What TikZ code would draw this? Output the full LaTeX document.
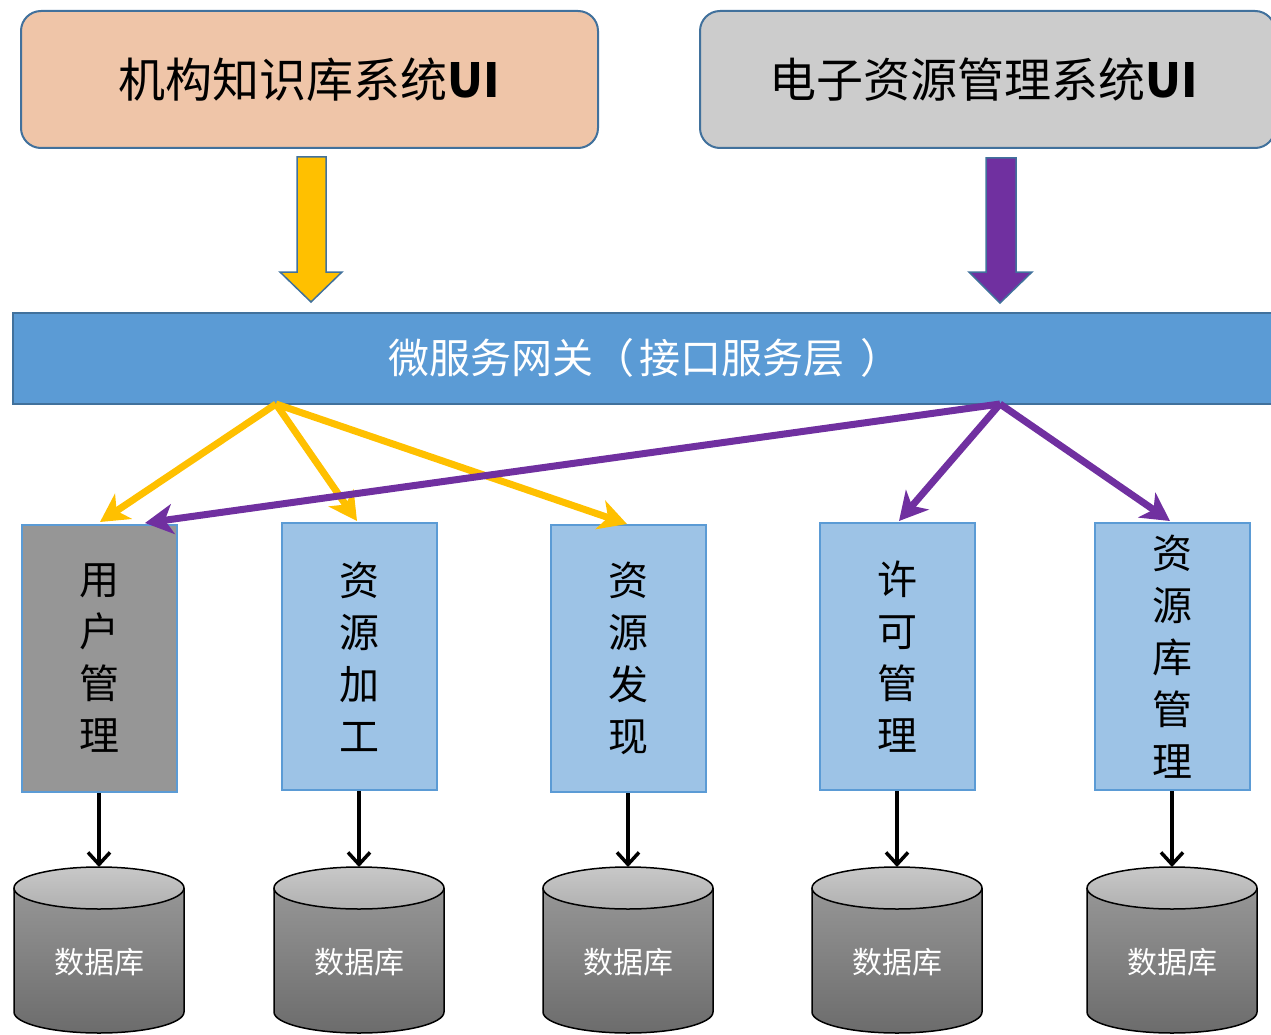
\documentclass[tikz,border=0pt]{standalone}
\usepackage{fontspec}
\newfontfamily\cjk{Noto Sans CJK SC}
\usetikzlibrary{arrows.meta,calc}
\definecolor{peach}{RGB}{239,197,168}
\definecolor{lgray}{RGB}{204,204,204}
\definecolor{edgeblue}{RGB}{65,113,156}
\definecolor{barblue}{RGB}{91,155,213}
\definecolor{svcblue}{RGB}{157,195,230}
\definecolor{svcgray}{RGB}{150,150,150}
\definecolor{ayellow}{RGB}{255,192,0}
\definecolor{apurple}{RGB}{112,48,160}
\tikzset{
  uibox/.style={draw=edgeblue, line width=2pt, rounded corners=20pt, minimum width=577pt, minimum height=137pt, inner sep=0pt, font=\cjk\fontsize{47}{50}\selectfont},
  svcbox/.style={draw=barblue, line width=2pt, fill=svcblue, minimum width=155pt, minimum height=267pt, inner sep=0pt, align=center, font=\cjk\fontsize{40}{52}\selectfont},
  blockarrow/.style={draw=edgeblue, line width=1.5pt},
  flowY/.style={draw=ayellow, line width=7pt, -{Stealth[length=28pt,width=30pt,inset=8pt]}},
  flowP/.style={draw=apurple, line width=7pt, -{Stealth[length=28pt,width=30pt,inset=8pt]}},
  dbarrow/.style={draw=black, line width=3.5pt, -{Straight Barb[length=12pt,width=22pt,line width=3.5pt]}},
  dblabel/.style={text=white, font=\cjk\fontsize{30}{34}\selectfont}
}
\begin{document}
\begin{tikzpicture}[x=1pt,y=-1pt]
\useasboundingbox (0,0) rectangle (1271,1035);
% top UI boxes
\node[uibox, fill=peach] (ui1) at (309.5,79.5) {机构知识库系统{\bfseries UI}};
\node[uibox, fill=lgray, minimum width=575pt] (ui2) at (987.5,79.5) {\hspace*{-8pt}电子资源管理系统{\bfseries UI}};
% gateway bar
\node[draw=edgeblue, line width=2pt, fill=barblue, minimum width=1267pt, minimum height=91pt, inner sep=0pt] (gw) at (646.5,358.5) {};
\node[text=white, font=\cjk\fontsize{41}{44}\selectfont] (gwt) at (645,358) {微服务网关（\hspace{6pt}接口服务层\hspace{16pt}）};
% block arrows
\path[blockarrow, fill=ayellow] (297,157) -- (326,157) -- (326,272) -- (342,272) -- (311,302) -- (280,272) -- (297,272) -- cycle;
\path[blockarrow, fill=apurple] (986,158) -- (1016,158) -- (1016,272) -- (1032,272) -- (1000,303) -- (969,272) -- (986,272) -- cycle;
% service boxes
\node[svcbox, fill=svcgray] (s1) at (99,658.5) {用\\户\\管\\理};
\node[svcbox] (s2) at (359,656.5) {资\\源\\加\\工};
\node[svcbox] (s3) at (628,658.5) {资\\源\\发\\现};
\node[svcbox] (s4) at (897,656.5) {许\\可\\管\\理};
\node[svcbox] (s5) at (1172,656.5) {资\\源\\库\\管\\理};
% fan-out points
\coordinate (gy) at (276,404);
\coordinate (gp) at (1000,404);
\coordinate (ty1) at (100,522);
\coordinate (ty2) at (357,521);
\coordinate (ty3) at (627,524);
\coordinate (tp1) at (145,523);
\coordinate (tp4) at (899,521);
\coordinate (tp5) at (1170,521);
\draw[flowY] (gy) -- (ty1);
\draw[flowY] (gy) -- (ty2);
\draw[flowY] (gy) -- (ty3);
\draw[flowP] (gp) -- (tp1);
\draw[flowP] (gp) -- (tp4);
\draw[flowP] (gp) -- (tp5);
% databases
\foreach \i/\cx in {1/99,2/359,3/628,4/897,5/1172}{
  \shade[top color={rgb,255:red,150;green,150;blue,150}, bottom color={rgb,255:red,108;green,108;blue,108}]
    (\cx-85,888) -- (\cx-85,1012) arc[start angle=180,end angle=360,x radius=85,y radius=-21] -- (\cx+85,888) -- cycle;
  \draw[line width=1.5pt] (\cx-85,888) -- (\cx-85,1012) arc[start angle=180,end angle=360,x radius=85,y radius=-21] -- (\cx+85,888);
  \shade[draw=black, line width=1.5pt, top color={rgb,255:red,200;green,200;blue,200}, bottom color={rgb,255:red,176;green,176;blue,176}] (\cx,888) ellipse[x radius=85, y radius=21];
  \coordinate (t\i) at (\cx,867);
  \node[dblabel] (d\i) at (\cx,962) {数据库};
}
\foreach \i in {1,...,5}{
  \draw[dbarrow] (s\i.south) -- (t\i);
}
\end{tikzpicture}
\end{document}
